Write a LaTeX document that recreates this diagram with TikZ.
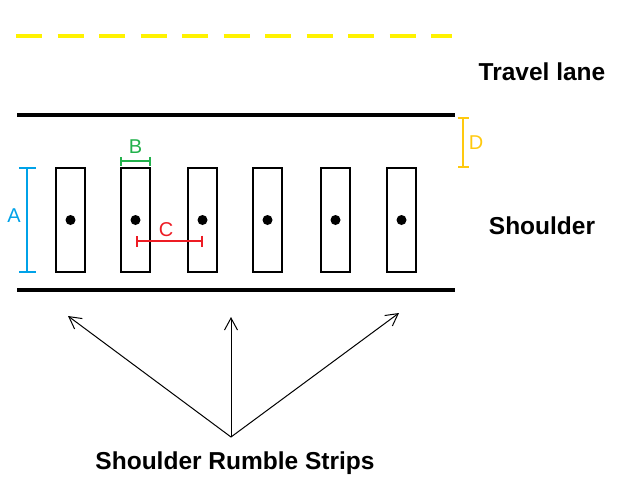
\documentclass[tikz,border=0pt]{standalone}
\usepackage{fontspec}
\setmainfont{Liberation Sans}
\usetikzlibrary{arrows.meta,positioning}
\definecolor{laneyellow}{RGB}{255,242,0}
\definecolor{dimblue}{RGB}{0,162,232}
\definecolor{dimgreen}{RGB}{34,177,76}
\definecolor{dimred}{RGB}{237,28,36}
\definecolor{dimgold}{RGB}{255,201,14}

\begin{document}
\begin{tikzpicture}[x=1pt,y=-1pt,
                    strip/.style={draw,line width=1.2pt,minimum width=29pt,minimum height=104pt,inner sep=0pt},
                    dim/.style={line width=2pt},
                    dimlabel/.style={font=\fontsize{20}{24}\selectfont,inner sep=0pt},
                    biglabel/.style={font=\bfseries\fontsize{24.5}{29}\selectfont,inner sep=0pt},
                    pointer/.style={line width=1pt,-{Straight Barb[length=12pt,width=13pt]}}
]
\useasboundingbox (0,0) rectangle (634,485);
%
\draw[laneyellow,line width=4.5pt,dash pattern=on 26pt off 15.5pt] (16,36) -- (452,36);
\draw[line width=4pt] (17,115) -- (455,115);
\draw[line width=4pt] (17,290) -- (455,290);
%
\foreach \i/\x in {1/70.5,2/135.5,3/202.5,4/267.5,5/335.5,6/401.5}{
  \node [strip] at (\x,220) (strip\i) {};
  \fill (strip\i.center) circle (5pt);
}
%
\node [biglabel] at (542,72) (travel) {Travel lane};
\node [biglabel] at (542,226) (shoulder) {Shoulder};
%
\draw[dimblue,dim,{Bar[width=17pt]}-{Bar[width=17pt]}] ([xshift=-28pt]strip1.north west) -- ([xshift=-28pt]strip1.south west);
\node [dimlabel,dimblue] at (14,216) (A) {A};
\draw[dimgreen,dim,{Bar[width=9pt]}-{Bar[width=9pt]}] ([yshift=6pt]strip2.north west) -- ([yshift=6pt]strip2.north east);
\node [dimlabel,dimgreen] at (135.5,147) (B) {B};
\draw[dimred,dim,{Bar[width=11pt]}-{Bar[width=11pt]}] ([yshift=-21pt]strip2.center) -- ([yshift=-21pt]strip3.center);
\node [dimlabel,dimred] at (166,230) (C) {C};
\draw[dimgold,dim,{Bar[width=11pt]}-{Bar[width=11pt]}] (463,117) -- (463,168);
\node [dimlabel,dimgold] at (476,143) (D) {D};
%
\coordinate (apex) at (231,437);
\node [biglabel] at (235,463) (rumble) {Shoulder Rumble Strips};
\draw[pointer] (apex) -- (68,316);
\draw[pointer] (apex) -- (231,317);
\draw[pointer] (apex) -- (399,313);
\end{tikzpicture}
\end{document}
